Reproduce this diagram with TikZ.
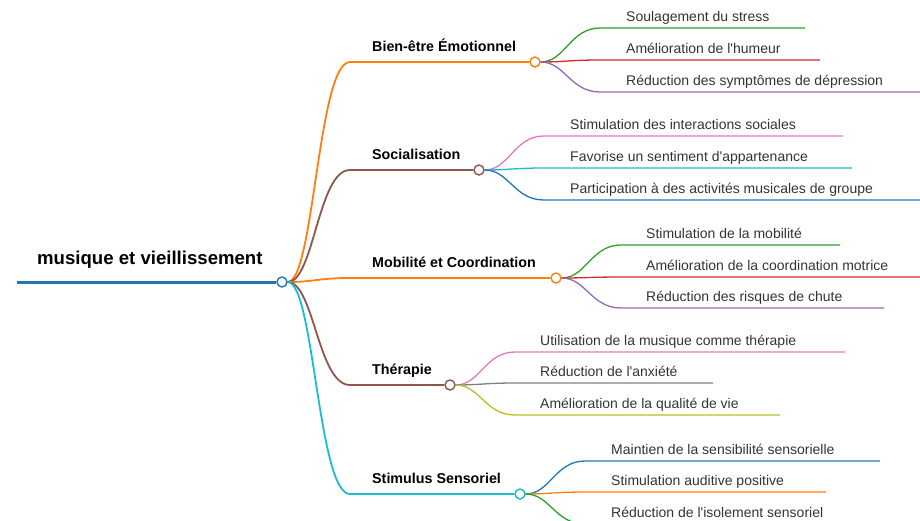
\documentclass[tikz,border=0pt]{standalone}
\usepackage{fontspec}
\setmainfont{Liberation Sans}
\usepackage{xcolor}
\definecolor{RootBlue}{RGB}{31,119,180}
\definecolor{Orange}{RGB}{255,127,14}
\definecolor{Brown}{RGB}{140,86,75}
\definecolor{Cyan}{RGB}{23,190,207}
\definecolor{Green}{RGB}{44,160,44}
\definecolor{Red}{RGB}{214,39,40}
\definecolor{Purple}{RGB}{148,103,189}
\definecolor{Pink}{RGB}{227,119,194}
\definecolor{Gray}{RGB}{127,127,127}
\definecolor{Olive}{RGB}{188,189,34}

\begin{document}
\begin{tikzpicture}[x=1pt,y=-1pt,
  knob/.style={circle,draw,fill=white,inner sep=0pt,minimum size=10pt,line width=1.4pt},
  rootline/.style={line width=3pt},
  mainline/.style={line width=1.8pt},
  leafline/.style={line width=1.3pt},
  title/.style={font=\fontsize{18.6}{22}\selectfont\bfseries,inner sep=0pt,anchor=base west},
  topic/.style={font=\fontsize{14.3}{17}\selectfont\bfseries,inner sep=0pt,anchor=base west},
  leaf/.style={font=\fontsize{14}{16}\selectfont,inner sep=0pt,anchor=base west,text=black!80}]
\useasboundingbox (0,0) rectangle (920,520);

% root
\coordinate (rs) at (17,282);
\node[knob,draw=RootBlue] (root) at (282,282) {};
\node[title] (rtitle) at (37,264) {musique et vieillissement};
\draw[rootline,RootBlue] (rs) -- (root);

% Bien-etre
\node[knob,draw=Orange] (b1) at (535,62) {};
\coordinate (b1h) at (350,62);
\node[topic] (b1t) at (372,51) {Bien-être Émotionnel};
\draw[mainline,Orange] (root) .. controls +(32,0) and +(-32,0) .. (b1h) -- (b1);
\coordinate (l11s) at (600,28); \coordinate (l11e) at (805,28);
\coordinate (l12s) at (600,60); \coordinate (l12e) at (820,60);
\coordinate (l13s) at (600,92); \coordinate (l13e) at (925,92);
\node[leaf] (l11) at (626,21.5) {Soulagement du stress};
\node[leaf] (l12) at (626,53.5) {Amélioration de l\textquotesingle humeur};
\node[leaf] (l13) at (626,85.5) {Réduction des symptômes de dépression};
\draw[leafline,Green] (b1) .. controls +(30,0) and +(-30,0) .. (l11s) -- (l11e);
\draw[leafline,Red] (b1) .. controls +(30,0) and +(-30,0) .. (l12s) -- (l12e);
\draw[leafline,Purple] (b1) .. controls +(30,0) and +(-30,0) .. (l13s) -- (l13e);

% Socialisation
\node[knob,draw=Brown] (b2) at (479,170) {};
\coordinate (b2h) at (350,170);
\node[topic] (b2t) at (372,159) {Socialisation};
\draw[mainline,Brown] (root) .. controls +(32,0) and +(-32,0) .. (b2h) -- (b2);
\coordinate (l21s) at (544,136); \coordinate (l21e) at (843,136);
\coordinate (l22s) at (544,168); \coordinate (l22e) at (852,168);
\coordinate (l23s) at (544,200); \coordinate (l23e) at (925,200);
\node[leaf] (l21) at (570,129.5) {Stimulation des interactions sociales};
\node[leaf] (l22) at (570,161.5) {Favorise un sentiment d\textquotesingle appartenance};
\node[leaf] (l23) at (570,193.5) {Participation à des activités musicales de groupe};
\draw[leafline,Pink] (b2) .. controls +(30,0) and +(-30,0) .. (l21s) -- (l21e);
\draw[leafline,Cyan] (b2) .. controls +(30,0) and +(-30,0) .. (l22s) -- (l22e);
\draw[leafline,RootBlue] (b2) .. controls +(30,0) and +(-30,0) .. (l23s) -- (l23e);

% Mobilite
\node[knob,draw=Orange] (b3) at (556,278) {};
\coordinate (b3h) at (350,278);
\node[topic] (b3t) at (372,267) {Mobilité et Coordination};
\draw[mainline,Orange] (root) .. controls +(32,0) and +(-32,0) .. (b3h) -- (b3);
\coordinate (l31s) at (621,245); \coordinate (l31e) at (840,245);
\coordinate (l32s) at (621,277); \coordinate (l32e) at (925,277);
\coordinate (l33s) at (621,308); \coordinate (l33e) at (884,308);
\node[leaf] (l31) at (646,238.5) {Stimulation de la mobilité};
\node[leaf] (l32) at (646,270.5) {Amélioration de la coordination motrice};
\node[leaf] (l33) at (646,301.5) {Réduction des risques de chute};
\draw[leafline,Green] (b3) .. controls +(30,0) and +(-30,0) .. (l31s) -- (l31e);
\draw[leafline,Red] (b3) .. controls +(30,0) and +(-30,0) .. (l32s) -- (l32e);
\draw[leafline,Purple] (b3) .. controls +(30,0) and +(-30,0) .. (l33s) -- (l33e);

% Therapie
\node[knob,draw=Brown] (b4) at (450,385) {};
\coordinate (b4h) at (350,385);
\node[topic] (b4t) at (372,374) {Thérapie};
\draw[mainline,Brown] (root) .. controls +(32,0) and +(-32,0) .. (b4h) -- (b4);
\coordinate (l41s) at (515,352); \coordinate (l41e) at (845,352);
\coordinate (l42s) at (515,383); \coordinate (l42e) at (713,383);
\coordinate (l43s) at (515,415); \coordinate (l43e) at (780,415);
\node[leaf] (l41) at (540,345.5) {Utilisation de la musique comme thérapie};
\node[leaf] (l42) at (540,376.5) {Réduction de l\textquotesingle anxiété};
\node[leaf] (l43) at (540,408.5) {Amélioration de la qualité de vie};
\draw[leafline,Pink] (b4) .. controls +(30,0) and +(-30,0) .. (l41s) -- (l41e);
\draw[leafline,Gray] (b4) .. controls +(30,0) and +(-30,0) .. (l42s) -- (l42e);
\draw[leafline,Olive] (b4) .. controls +(30,0) and +(-30,0) .. (l43s) -- (l43e);

% Stimulus
\node[knob,draw=Cyan] (b5) at (520,494) {};
\coordinate (b5h) at (350,494);
\node[topic] (b5t) at (372,483) {Stimulus Sensoriel};
\draw[mainline,Cyan] (root) .. controls +(32,0) and +(-32,0) .. (b5h) -- (b5);
\coordinate (l51s) at (585,461); \coordinate (l51e) at (880,461);
\coordinate (l52s) at (585,492); \coordinate (l52e) at (826,492);
\coordinate (l53s) at (585,524); \coordinate (l53e) at (900,524);
\node[leaf] (l51) at (611,454.5) {Maintien de la sensibilité sensorielle};
\node[leaf] (l52) at (611,485.5) {Stimulation auditive positive};
\node[leaf] (l53) at (611,517.5) {Réduction de l\textquotesingle isolement sensoriel};
\draw[leafline,RootBlue] (b5) .. controls +(30,0) and +(-30,0) .. (l51s) -- (l51e);
\draw[leafline,Orange] (b5) .. controls +(30,0) and +(-30,0) .. (l52s) -- (l52e);
\draw[leafline,Green] (b5) .. controls +(30,0) and +(-30,0) .. (l53s) -- (l53e);
\end{tikzpicture}
\end{document}
